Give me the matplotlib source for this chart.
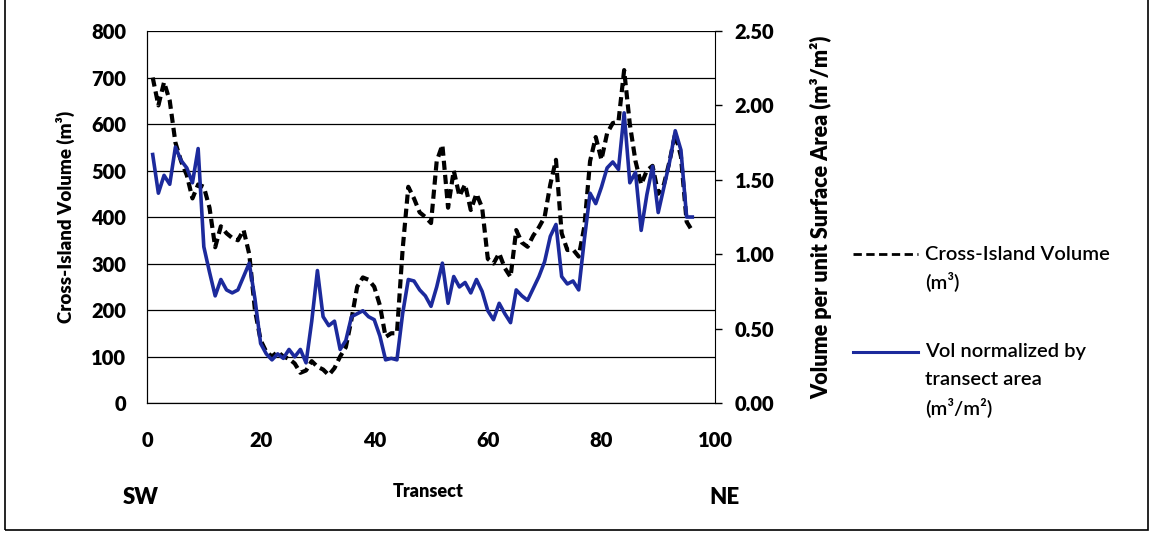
import numpy as np
import matplotlib.pyplot as plt
from matplotlib.patches import Rectangle
from matplotlib.lines import Line2D

plt.rcParams['font.family'] = ['Lato', 'DejaVu Sans']

# transect numbers, SW -> NE
transect = np.arange(1, 97)

# cross-island volume (m3), left axis
volume = [700, 640, 690, 650, 560, 520, 490, 440, 470, 465,
          420, 335, 380, 365, 355, 350, 372, 320, 200, 135,
          110, 100, 110, 100, 95, 85, 65, 70, 90, 78,
          72, 60, 75, 100, 120, 180, 250, 270, 265, 250,
          210, 142, 150, 150, 330, 465, 440, 410, 400, 387,
          520, 555, 420, 500, 445, 470, 415, 450, 420, 310,
          300, 322, 290, 271, 372, 345, 336, 360, 378, 400,
          470, 523, 365, 329, 330, 315, 380, 520, 572, 523,
          580, 602, 605, 716, 600, 520, 470, 500, 510, 450,
          470, 520, 580, 530, 390, 370]

# volume normalized by transect area (m3/m2), right axis
vol_norm = [1.67, 1.41, 1.53, 1.47, 1.72, 1.63, 1.58, 1.48, 1.71, 1.05,
            0.88, 0.72, 0.83, 0.76, 0.74, 0.76, 0.85, 0.94, 0.70, 0.40,
            0.33, 0.29, 0.33, 0.30, 0.36, 0.31, 0.36, 0.27, 0.55, 0.89,
            0.58, 0.52, 0.55, 0.36, 0.42, 0.58, 0.60, 0.62, 0.58, 0.56,
            0.45, 0.29, 0.30, 0.29, 0.60, 0.83, 0.82, 0.76, 0.72, 0.65,
            0.78, 0.94, 0.67, 0.85, 0.78, 0.81, 0.74, 0.83, 0.75, 0.62,
            0.56, 0.67, 0.60, 0.54, 0.76, 0.72, 0.69, 0.77, 0.85, 0.95,
            1.12, 1.20, 0.85, 0.80, 0.82, 0.76, 1.10, 1.41, 1.34, 1.45,
            1.58, 1.62, 1.57, 1.95, 1.48, 1.55, 1.16, 1.40, 1.59, 1.28,
            1.45, 1.62, 1.83, 1.70, 1.25, 1.25]

left_ticks = [0, 100, 200, 300, 400, 500, 600, 700, 800]
right_ticks = [0.0, 0.5, 1.0, 1.5, 2.0, 2.5]
x_ticks = [0, 20, 40, 60, 80, 100]

black_ls = (0, (2.2, 1.2))
blue = '#1c2a9c'
heavy = 'heavy'

fig = plt.figure(figsize=(11.54, 5.33), dpi=100)
ax = fig.add_axes([0.1274, 0.2439, 0.4922, 0.6979])
ax2 = ax.twinx()

ax.plot(transect, volume, color='black', lw=3.0, ls=black_ls, zorder=3)
ax2.plot(transect, vol_norm, color=blue, lw=2.6, zorder=4)

ax.set_xlim(0, 100)
ax.set_ylim(0, 800)
ax2.set_ylim(0, 2.5)
ax.set_xticks(x_ticks)
ax.set_yticks(left_ticks)
ax2.set_yticks(right_ticks)
ax2.set_yticklabels([f'{v:.2f}' for v in right_ticks])
ax.yaxis.grid(True, color='black', lw=0.9)
ax.set_axisbelow(True)

for a in (ax, ax2):
    a.spines['top'].set_visible(False)
    a.tick_params(labelsize=14.5, width=1, length=5)
    for lab in a.get_xticklabels() + a.get_yticklabels():
        lab.set_fontweight(heavy)
ax.tick_params(axis='x', length=0, pad=20)
ax.tick_params(axis='y', length=0, pad=15)
ax2.tick_params(axis='y', pad=9)
ax.spines['right'].set_visible(False)

ax.set_ylabel('Cross-Island Volume (m³)', fontsize=13.5, fontweight=heavy, labelpad=12)
ax2.set_ylabel('Volume per unit Surface Area (m³/m²)', fontsize=15.5,
               fontweight=heavy, labelpad=26)

fig.text(0.371, 0.068, 'Transect', ha='center', fontsize=13, fontweight=heavy)
fig.text(0.122, 0.054, 'SW', ha='center', fontsize=16, fontweight=heavy)
fig.text(0.628, 0.054, 'NE', ha='center', fontsize=16, fontweight=heavy)

# legend drawn by hand so the samples sit on the first text line
leg_rows = [(['Cross-Island Volume', '(m³)'], 'black', (0, (3, 1.6)), 254),
            (['Vol normalized by', 'transect area', '(m³/m²)'], blue, '-', 352)]
for lines, col, ls, ypx in leg_rows:
    yf = 1 - ypx / 533
    fig.add_artist(Line2D([853 / 1154, 918 / 1154], [yf, yf], color=col,
                          lw=2.0 if col == 'black' else 2.2, ls=ls,
                          transform=fig.transFigure))
    for i, s in enumerate(lines):
        fig.text(925 / 1154, 1 - (ypx + 27.5 * i) / 533, s, fontsize=14.5,
                 va='center', ha='left', fontweight='semibold')

fig.patches.append(Rectangle((0.004, 0.006), 0.991, 1.2, transform=fig.transFigure,
                             fill=False, edgecolor='black', lw=1.2))

fig.savefig('out.png', dpi=100)
